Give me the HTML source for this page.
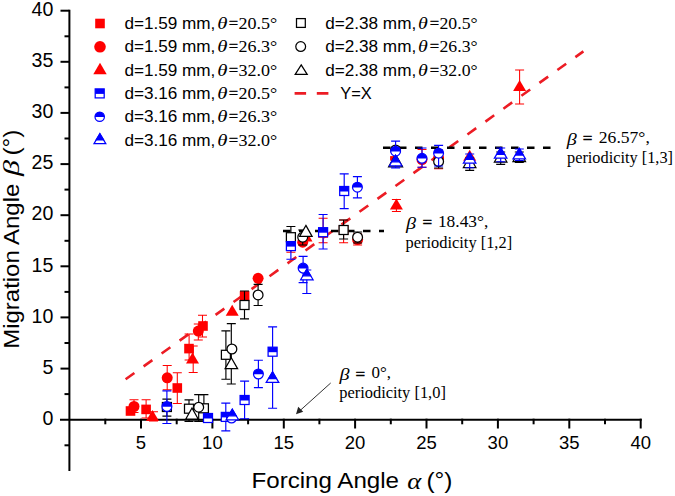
<!DOCTYPE html>
<html><head><meta charset="utf-8"><style>
html,body{margin:0;padding:0;background:#fff;}
svg{display:block;}
</style></head><body>
<svg width="675" height="496" viewBox="0 0 675 496">
<rect width="675" height="496" fill="#fff"/>
<path d="M69.4 9.7V471" stroke="#000" stroke-width="2" fill="none"/>
<path d="M60 419.7H641.7" stroke="#000" stroke-width="2" fill="none"/>
<path d="M60.5 368.6H69.4" stroke="#000" stroke-width="2"/>
<path d="M60.5 317.4H69.4" stroke="#000" stroke-width="2"/>
<path d="M60.5 266.3H69.4" stroke="#000" stroke-width="2"/>
<path d="M60.5 215.2H69.4" stroke="#000" stroke-width="2"/>
<path d="M60.5 164.1H69.4" stroke="#000" stroke-width="2"/>
<path d="M60.5 112.9H69.4" stroke="#000" stroke-width="2"/>
<path d="M60.5 61.8H69.4" stroke="#000" stroke-width="2"/>
<path d="M60.5 10.7H69.4" stroke="#000" stroke-width="2"/>
<path d="M64.5 445.3H69.4" stroke="#000" stroke-width="2"/>
<path d="M64.5 394.1H69.4" stroke="#000" stroke-width="2"/>
<path d="M64.5 343.0H69.4" stroke="#000" stroke-width="2"/>
<path d="M64.5 291.9H69.4" stroke="#000" stroke-width="2"/>
<path d="M64.5 240.8H69.4" stroke="#000" stroke-width="2"/>
<path d="M64.5 189.6H69.4" stroke="#000" stroke-width="2"/>
<path d="M64.5 138.5H69.4" stroke="#000" stroke-width="2"/>
<path d="M64.5 87.4H69.4" stroke="#000" stroke-width="2"/>
<path d="M64.5 36.3H69.4" stroke="#000" stroke-width="2"/>
<text x="53.4" y="424.9" font-family="Liberation Sans" font-size="19.6" text-anchor="end">0</text>
<text x="53.4" y="373.8" font-family="Liberation Sans" font-size="19.6" text-anchor="end">5</text>
<text x="53.4" y="322.6" font-family="Liberation Sans" font-size="19.6" text-anchor="end">10</text>
<text x="53.4" y="271.5" font-family="Liberation Sans" font-size="19.6" text-anchor="end">15</text>
<text x="53.4" y="220.4" font-family="Liberation Sans" font-size="19.6" text-anchor="end">20</text>
<text x="53.4" y="169.3" font-family="Liberation Sans" font-size="19.6" text-anchor="end">25</text>
<text x="53.4" y="118.1" font-family="Liberation Sans" font-size="19.6" text-anchor="end">30</text>
<text x="53.4" y="67.0" font-family="Liberation Sans" font-size="19.6" text-anchor="end">35</text>
<text x="53.4" y="15.9" font-family="Liberation Sans" font-size="19.6" text-anchor="end">40</text>
<path d="M141.0 418.7V428.5" stroke="#000" stroke-width="2"/>
<path d="M212.4 418.7V428.5" stroke="#000" stroke-width="2"/>
<path d="M283.8 418.7V428.5" stroke="#000" stroke-width="2"/>
<path d="M355.1 418.7V428.5" stroke="#000" stroke-width="2"/>
<path d="M426.5 418.7V428.5" stroke="#000" stroke-width="2"/>
<path d="M497.9 418.7V428.5" stroke="#000" stroke-width="2"/>
<path d="M569.3 418.7V428.5" stroke="#000" stroke-width="2"/>
<path d="M640.7 418.7V428.5" stroke="#000" stroke-width="2"/>
<path d="M105.3 418.7V424.3" stroke="#000" stroke-width="2"/>
<path d="M176.7 418.7V424.3" stroke="#000" stroke-width="2"/>
<path d="M248.1 418.7V424.3" stroke="#000" stroke-width="2"/>
<path d="M319.4 418.7V424.3" stroke="#000" stroke-width="2"/>
<path d="M390.8 418.7V424.3" stroke="#000" stroke-width="2"/>
<path d="M462.2 418.7V424.3" stroke="#000" stroke-width="2"/>
<path d="M533.6 418.7V424.3" stroke="#000" stroke-width="2"/>
<path d="M605.0 418.7V424.3" stroke="#000" stroke-width="2"/>
<text x="141.0" y="449.4" font-family="Liberation Sans" font-size="18.5" text-anchor="middle">5</text>
<text x="212.4" y="449.4" font-family="Liberation Sans" font-size="18.5" text-anchor="middle">10</text>
<text x="283.8" y="449.4" font-family="Liberation Sans" font-size="18.5" text-anchor="middle">15</text>
<text x="355.1" y="449.4" font-family="Liberation Sans" font-size="18.5" text-anchor="middle">20</text>
<text x="426.5" y="449.4" font-family="Liberation Sans" font-size="18.5" text-anchor="middle">25</text>
<text x="497.9" y="449.4" font-family="Liberation Sans" font-size="18.5" text-anchor="middle">30</text>
<text x="569.3" y="449.4" font-family="Liberation Sans" font-size="18.5" text-anchor="middle">35</text>
<text x="640.7" y="449.4" font-family="Liberation Sans" font-size="18.5" text-anchor="middle">40</text>
<text x="251.5" y="487.9" font-family="Liberation Sans" font-size="21.5" text-anchor="start" textLength="147.5" lengthAdjust="spacingAndGlyphs">Forcing Angle</text>
<text x="407.3" y="489.2" font-family="Liberation Serif" font-size="23" font-style="italic" text-anchor="start" textLength="14" lengthAdjust="spacingAndGlyphs">α</text>
<text x="426.5" y="487.9" font-family="Liberation Sans" font-size="21.5" text-anchor="start" textLength="26" lengthAdjust="spacingAndGlyphs">(°)</text>
<g transform="translate(18.7 348.7) rotate(-90)">
<text x="0" y="0" font-family="Liberation Sans" font-size="22" text-anchor="start" textLength="165" lengthAdjust="spacingAndGlyphs">Migration Angle</text>
<text x="172.6" y="0" font-family="Liberation Serif" font-size="24" font-style="italic" text-anchor="start" textLength="16" lengthAdjust="spacingAndGlyphs">β</text>
<text x="193.2" y="0" font-family="Liberation Sans" font-size="21.5" text-anchor="start" textLength="26" lengthAdjust="spacingAndGlyphs">(°)</text>
</g>
<path d="M125.6 379.3L583.4 51.4" stroke="#ec1c24" stroke-width="2.6" stroke-dasharray="10.8 11.33" fill="none"/>
<path d="M283 231H384" stroke="#000" stroke-width="2.4" stroke-dasharray="7.5 8.5" fill="none"/>
<path d="M383 147.7H551.3" stroke="#000" stroke-width="2.4" stroke-dasharray="7.5 8.5" fill="none"/>
<path d="M134.0 399.8V412.4M129.5 399.8h9M129.5 412.4h9" stroke="#ff0000" stroke-width="1.05" fill="none"/>
<path d="M146.1 399.8V418.0M141.6 399.8h9M141.6 418.0h9" stroke="#ff0000" stroke-width="1.05" fill="none"/>
<path d="M153.5 411.7V421.0M149.0 411.7h9M149.0 421.0h9" stroke="#ff0000" stroke-width="1.05" fill="none"/>
<path d="M167.2 365.5V389.8M162.7 365.5h9M162.7 389.8h9" stroke="#ff0000" stroke-width="1.05" fill="none"/>
<path d="M177.3 372.7V403.5M172.8 372.7h9M172.8 403.5h9" stroke="#ff0000" stroke-width="1.05" fill="none"/>
<path d="M189.1 334.0V360.0M184.6 334.0h9M184.6 360.0h9" stroke="#ff0000" stroke-width="1.05" fill="none"/>
<path d="M193.2 346.0V372.5M188.7 346.0h9M188.7 372.5h9" stroke="#ff0000" stroke-width="1.05" fill="none"/>
<path d="M198.3 324.0V340.0M193.8 324.0h9M193.8 340.0h9" stroke="#ff0000" stroke-width="1.05" fill="none"/>
<path d="M202.5 315.2V337.0M198.0 315.2h9M198.0 337.0h9" stroke="#ff0000" stroke-width="1.05" fill="none"/>
<path d="M290.9 240.0V252.2M286.4 240.0h9M286.4 252.2h9" stroke="#ff0000" stroke-width="1.05" fill="none"/>
<path d="M323.1 218.2V242.7M318.6 218.2h9M318.6 242.7h9" stroke="#ff0000" stroke-width="1.05" fill="none"/>
<path d="M343.6 220.0V242.7M339.1 220.0h9M339.1 242.7h9" stroke="#ff0000" stroke-width="1.05" fill="none"/>
<path d="M357.6 234.0V245.0M353.1 234.0h9M353.1 245.0h9" stroke="#ff0000" stroke-width="1.05" fill="none"/>
<path d="M396.4 199.4V211.5M391.9 199.4h9M391.9 211.5h9" stroke="#ff0000" stroke-width="1.05" fill="none"/>
<path d="M422.0 149.5V167.2M417.5 149.5h9M417.5 167.2h9" stroke="#ff0000" stroke-width="1.05" fill="none"/>
<path d="M438.6 152.0V168.7M434.1 152.0h9M434.1 168.7h9" stroke="#ff0000" stroke-width="1.05" fill="none"/>
<path d="M519.6 70.0V104.0M515.1 70.0h9M515.1 104.0h9" stroke="#ff0000" stroke-width="1.05" fill="none"/>
<rect x="125.7" y="406.2" width="9.6" height="9.6" fill="#ff0000"/>
<rect x="141.3" y="404.6" width="9.6" height="9.6" fill="#ff0000"/>
<rect x="172.5" y="383.2" width="9.6" height="9.6" fill="#ff0000"/>
<rect x="184.2" y="343.8" width="9.6" height="9.6" fill="#ff0000"/>
<rect x="198.2" y="321.2" width="9.6" height="9.6" fill="#ff0000"/>
<rect x="239.8" y="291.1" width="9.6" height="9.6" fill="#ff0000"/>
<rect x="286.1" y="239.2" width="9.6" height="9.6" fill="#ff0000"/>
<rect x="318.3" y="228.2" width="9.6" height="9.6" fill="#ff0000"/>
<rect x="338.8" y="225.2" width="9.6" height="9.6" fill="#ff0000"/>
<rect x="390.1" y="156.1" width="4.5" height="4.5" fill="#ff0000"/>
<circle cx="134.0" cy="406.5" r="5.5" fill="#ff0000"/>
<circle cx="167.2" cy="377.8" r="5.5" fill="#ff0000"/>
<circle cx="198.3" cy="331.1" r="5.5" fill="#ff0000"/>
<circle cx="258.1" cy="278.3" r="5.5" fill="#ff0000"/>
<circle cx="302.7" cy="242.2" r="5.5" fill="#ff0000"/>
<circle cx="357.6" cy="239.5" r="5.5" fill="#ff0000"/>
<circle cx="422.0" cy="159.5" r="5.5" fill="#ff0000"/>
<circle cx="438.6" cy="158.0" r="5.5" fill="#ff0000"/>
<path d="M152.5 410.0L159.0 421.0H146.0Z" fill="#ff0000"/>
<path d="M192.5 352.6L199.0 363.6H186.0Z" fill="#ff0000"/>
<path d="M232.2 304.7L238.7 315.7H225.7Z" fill="#ff0000"/>
<path d="M306.0 230.5L312.5 241.5H299.5Z" fill="#ff0000"/>
<path d="M396.4 198.5L402.9 209.5H389.9Z" fill="#ff0000"/>
<path d="M469.7 149.8L476.2 160.8H463.2Z" fill="#ff0000"/>
<path d="M519.6 79.9L526.1 90.9H513.1Z" fill="#ff0000"/>
<path d="M166.9 399.1V416.1M162.4 399.1h9M162.4 416.1h9" stroke="#000000" stroke-width="1.15" fill="none"/>
<path d="M189.0 399.8V421.3M184.5 399.8h9M184.5 421.3h9" stroke="#000000" stroke-width="1.15" fill="none"/>
<path d="M198.7 394.6V421.3M194.2 394.6h9M194.2 421.3h9" stroke="#000000" stroke-width="1.15" fill="none"/>
<path d="M203.9 394.6V421.3M199.4 394.6h9M199.4 421.3h9" stroke="#000000" stroke-width="1.15" fill="none"/>
<path d="M225.9 330.8V379.2M221.4 330.8h9M221.4 379.2h9" stroke="#000000" stroke-width="1.15" fill="none"/>
<path d="M231.3 323.6V384.0M226.8 323.6h9M226.8 384.0h9" stroke="#000000" stroke-width="1.15" fill="none"/>
<path d="M244.5 291.0V318.8M240.0 291.0h9M240.0 318.8h9" stroke="#000000" stroke-width="1.15" fill="none"/>
<path d="M258.1 284.4V305.5M253.6 284.4h9M253.6 305.5h9" stroke="#000000" stroke-width="1.15" fill="none"/>
<path d="M290.9 226.5V245.0M286.4 226.5h9M286.4 245.0h9" stroke="#000000" stroke-width="1.15" fill="none"/>
<path d="M302.7 230.0V245.0M298.2 230.0h9M298.2 245.0h9" stroke="#000000" stroke-width="1.15" fill="none"/>
<path d="M343.6 220.0V239.0M339.1 220.0h9M339.1 239.0h9" stroke="#000000" stroke-width="1.15" fill="none"/>
<path d="M357.6 232.0V243.0M353.1 232.0h9M353.1 243.0h9" stroke="#000000" stroke-width="1.15" fill="none"/>
<path d="M438.6 150.0V168.0M434.1 150.0h9M434.1 168.0h9" stroke="#000000" stroke-width="1.15" fill="none"/>
<path d="M469.7 158.0V170.3M465.2 158.0h9M465.2 170.3h9" stroke="#000000" stroke-width="1.15" fill="none"/>
<path d="M500.7 152.0V164.3M496.2 152.0h9M496.2 164.3h9" stroke="#000000" stroke-width="1.15" fill="none"/>
<path d="M519.3 152.0V162.3M514.8 152.0h9M514.8 162.3h9" stroke="#000000" stroke-width="1.15" fill="none"/>
<rect x="162.4" y="402.5" width="9.0" height="9.0" fill="#fff" stroke="#000000" stroke-width="1.25"/>
<rect x="184.5" y="404.2" width="9.0" height="9.0" fill="#fff" stroke="#000000" stroke-width="1.25"/>
<rect x="199.4" y="403.8" width="9.0" height="9.0" fill="#fff" stroke="#000000" stroke-width="1.25"/>
<rect x="221.4" y="350.3" width="9.0" height="9.0" fill="#fff" stroke="#000000" stroke-width="1.25"/>
<rect x="240.0" y="300.5" width="9.0" height="9.0" fill="#fff" stroke="#000000" stroke-width="1.25"/>
<rect x="286.4" y="232.7" width="9.0" height="9.0" fill="#fff" stroke="#000000" stroke-width="1.25"/>
<rect x="339.1" y="225.5" width="9.0" height="9.0" fill="#fff" stroke="#000000" stroke-width="1.25"/>
<circle cx="198.7" cy="407.2" r="4.9" fill="#fff" stroke="#000000" stroke-width="1.25"/>
<circle cx="231.9" cy="349.0" r="4.9" fill="#fff" stroke="#000000" stroke-width="1.25"/>
<circle cx="258.1" cy="294.9" r="4.9" fill="#fff" stroke="#000000" stroke-width="1.25"/>
<circle cx="302.7" cy="237.2" r="4.9" fill="#fff" stroke="#000000" stroke-width="1.25"/>
<circle cx="357.6" cy="237.2" r="4.9" fill="#fff" stroke="#000000" stroke-width="1.25"/>
<circle cx="438.6" cy="161.5" r="4.9" fill="#fff" stroke="#000000" stroke-width="1.25"/>
<circle cx="395.6" cy="150.0" r="4.9" fill="#fff" stroke="#000000" stroke-width="1.25"/>
<path d="M192.0 408.0L198.2 419.0H185.8Z" fill="#fff" stroke="#000000" stroke-width="1.25" stroke-linejoin="miter"/>
<path d="M231.3 357.7L237.6 368.7H225.1Z" fill="#fff" stroke="#000000" stroke-width="1.25" stroke-linejoin="miter"/>
<path d="M305.9 225.4L312.1 236.4H299.6Z" fill="#fff" stroke="#000000" stroke-width="1.25" stroke-linejoin="miter"/>
<path d="M469.7 156.5L475.9 167.5H463.4Z" fill="#fff" stroke="#000000" stroke-width="1.25" stroke-linejoin="miter"/>
<path d="M500.7 151.0L506.9 162.0H494.4Z" fill="#fff" stroke="#000000" stroke-width="1.25" stroke-linejoin="miter"/>
<path d="M519.3 150.5L525.5 161.5H513.0Z" fill="#fff" stroke="#000000" stroke-width="1.25" stroke-linejoin="miter"/>
<path d="M395.6 154.2L402.6 166.8H388.6Z" fill="#fff" stroke="#000000" stroke-width="1.25" stroke-linejoin="miter"/>
<path d="M166.9 390.9V423.5M162.4 390.9h9M162.4 423.5h9" stroke="#0000ff" stroke-width="1.15" fill="none"/>
<path d="M225.8 403.1V430.8M221.3 403.1h9M221.3 430.8h9" stroke="#0000ff" stroke-width="1.15" fill="none"/>
<path d="M244.6 381.1V418.7M240.1 381.1h9M240.1 418.7h9" stroke="#0000ff" stroke-width="1.15" fill="none"/>
<path d="M258.4 360.2V387.6M253.9 360.2h9M253.9 387.6h9" stroke="#0000ff" stroke-width="1.15" fill="none"/>
<path d="M272.6 326.8V408.2M268.1 326.8h9M268.1 408.2h9" stroke="#0000ff" stroke-width="1.15" fill="none"/>
<path d="M290.9 245.0V259.2M286.4 245.0h9M286.4 259.2h9" stroke="#0000ff" stroke-width="1.15" fill="none"/>
<path d="M303.1 256.3V282.6M298.6 256.3h9M298.6 282.6h9" stroke="#0000ff" stroke-width="1.15" fill="none"/>
<path d="M306.8 270.0V293.5M302.3 270.0h9M302.3 293.5h9" stroke="#0000ff" stroke-width="1.15" fill="none"/>
<path d="M323.1 214.5V249.0M318.6 214.5h9M318.6 249.0h9" stroke="#0000ff" stroke-width="1.15" fill="none"/>
<path d="M344.2 173.9V208.6M339.7 173.9h9M339.7 208.6h9" stroke="#0000ff" stroke-width="1.15" fill="none"/>
<path d="M357.4 176.6V197.8M352.9 176.6h9M352.9 197.8h9" stroke="#0000ff" stroke-width="1.15" fill="none"/>
<path d="M395.6 141.1V167.8M391.1 141.1h9M391.1 167.8h9" stroke="#0000ff" stroke-width="1.15" fill="none"/>
<path d="M422.0 148.0V167.2M417.5 148.0h9M417.5 167.2h9" stroke="#0000ff" stroke-width="1.15" fill="none"/>
<path d="M438.6 145.4V166.0M434.1 145.4h9M434.1 166.0h9" stroke="#0000ff" stroke-width="1.15" fill="none"/>
<path d="M469.7 154.0V167.7M465.2 154.0h9M465.2 167.7h9" stroke="#0000ff" stroke-width="1.15" fill="none"/>
<path d="M500.7 148.0V161.7M496.2 148.0h9M496.2 161.7h9" stroke="#0000ff" stroke-width="1.15" fill="none"/>
<path d="M519.3 149.0V160.5M514.8 149.0h9M514.8 160.5h9" stroke="#0000ff" stroke-width="1.15" fill="none"/>
<rect x="203.5" y="413.5" width="9.0" height="9.0" fill="#fff" stroke="#0000ff" stroke-width="1.25"/>
<rect x="203.5" y="413.5" width="9.0" height="5.0" fill="#0000ff"/>
<rect x="221.3" y="412.4" width="9.0" height="9.0" fill="#fff" stroke="#0000ff" stroke-width="1.25"/>
<rect x="221.3" y="412.4" width="9.0" height="5.0" fill="#0000ff"/>
<rect x="240.1" y="395.5" width="9.0" height="9.0" fill="#fff" stroke="#0000ff" stroke-width="1.25"/>
<rect x="240.1" y="395.5" width="9.0" height="5.0" fill="#0000ff"/>
<rect x="268.1" y="347.2" width="9.0" height="9.0" fill="#fff" stroke="#0000ff" stroke-width="1.25"/>
<rect x="268.1" y="347.2" width="9.0" height="5.0" fill="#0000ff"/>
<rect x="286.4" y="241.6" width="9.0" height="9.0" fill="#fff" stroke="#0000ff" stroke-width="1.25"/>
<rect x="286.4" y="241.6" width="9.0" height="5.0" fill="#0000ff"/>
<rect x="318.6" y="227.7" width="9.0" height="9.0" fill="#fff" stroke="#0000ff" stroke-width="1.25"/>
<rect x="318.6" y="227.7" width="9.0" height="5.0" fill="#0000ff"/>
<rect x="339.7" y="186.5" width="9.0" height="9.0" fill="#fff" stroke="#0000ff" stroke-width="1.25"/>
<rect x="339.7" y="186.5" width="9.0" height="5.0" fill="#0000ff"/>
<circle cx="166.9" cy="406.5" r="4.9" fill="#fff" stroke="#0000ff" stroke-width="1.25"/>
<path d="M162.01 406.80A4.9 4.9 0 1 1 171.79 406.80Z" fill="#0000ff"/>
<circle cx="231.5" cy="418.0" r="4.9" fill="#fff" stroke="#0000ff" stroke-width="1.25"/>
<path d="M226.61 418.30A4.9 4.9 0 1 1 236.39 418.30Z" fill="#0000ff"/>
<circle cx="258.4" cy="374.0" r="4.9" fill="#fff" stroke="#0000ff" stroke-width="1.25"/>
<path d="M253.51 374.30A4.9 4.9 0 1 1 263.29 374.30Z" fill="#0000ff"/>
<circle cx="303.1" cy="268.1" r="4.9" fill="#fff" stroke="#0000ff" stroke-width="1.25"/>
<path d="M298.21 268.40A4.9 4.9 0 1 1 307.99 268.40Z" fill="#0000ff"/>
<circle cx="357.4" cy="187.2" r="4.9" fill="#fff" stroke="#0000ff" stroke-width="1.25"/>
<path d="M352.51 187.50A4.9 4.9 0 1 1 362.29 187.50Z" fill="#0000ff"/>
<circle cx="395.6" cy="151.2" r="4.9" fill="#fff" stroke="#0000ff" stroke-width="1.25"/>
<path d="M390.71 151.50A4.9 4.9 0 1 1 400.49 151.50Z" fill="#0000ff"/>
<circle cx="422.0" cy="158.3" r="4.9" fill="#fff" stroke="#0000ff" stroke-width="1.25"/>
<path d="M417.11 158.60A4.9 4.9 0 1 1 426.89 158.60Z" fill="#0000ff"/>
<circle cx="438.6" cy="153.2" r="4.9" fill="#fff" stroke="#0000ff" stroke-width="1.25"/>
<path d="M433.71 153.50A4.9 4.9 0 1 1 443.49 153.50Z" fill="#0000ff"/>
<path d="M232.3 409.2L238.6 419.8H226.1Z" fill="#fff" stroke="#0000ff" stroke-width="1.25"/>
<path d="M232.3 409.2L236.2 415.8H228.4Z" fill="#0000ff" stroke="#0000ff" stroke-width="1.25"/>
<path d="M272.5 371.9L278.8 382.4H266.2Z" fill="#fff" stroke="#0000ff" stroke-width="1.25"/>
<path d="M272.5 371.9L276.4 378.5H268.6Z" fill="#0000ff" stroke="#0000ff" stroke-width="1.25"/>
<path d="M306.8 269.2L313.1 279.8H300.6Z" fill="#fff" stroke="#0000ff" stroke-width="1.25"/>
<path d="M306.8 269.2L310.7 275.8H302.9Z" fill="#0000ff" stroke="#0000ff" stroke-width="1.25"/>
<path d="M395.6 155.2L401.9 165.8H389.4Z" fill="#fff" stroke="#0000ff" stroke-width="1.25"/>
<path d="M395.6 155.2L399.5 161.8H391.7Z" fill="#0000ff" stroke="#0000ff" stroke-width="1.25"/>
<path d="M469.7 152.8L475.9 163.2H463.4Z" fill="#fff" stroke="#0000ff" stroke-width="1.25"/>
<path d="M469.7 152.8L473.6 159.3H465.8Z" fill="#0000ff" stroke="#0000ff" stroke-width="1.25"/>
<path d="M500.7 147.8L506.9 158.2H494.4Z" fill="#fff" stroke="#0000ff" stroke-width="1.25"/>
<path d="M500.7 147.8L504.6 154.3H496.8Z" fill="#0000ff" stroke="#0000ff" stroke-width="1.25"/>
<path d="M519.3 148.4L525.5 158.9H513.0Z" fill="#fff" stroke="#0000ff" stroke-width="1.25"/>
<path d="M519.3 148.4L523.2 155.0H515.4Z" fill="#0000ff" stroke="#0000ff" stroke-width="1.25"/>
<path d="M330.7 383L299 411.5" stroke="#333" stroke-width="1"/>
<path d="M296 414.2L298.2 406.8L303.2 411.8Z" fill="#222"/>
<text x="339.6" y="380.2" font-family="Liberation Serif" font-size="17" font-style="italic" textLength="10" lengthAdjust="spacingAndGlyphs">β</text>
<text x="355.4" y="380.0" font-family="Liberation Serif" font-size="16" textLength="9.6" lengthAdjust="spacingAndGlyphs" stroke="#000" stroke-width="0.45">=</text>
<text x="371.6" y="378.4" font-family="Liberation Serif" font-size="16.3" textLength="19.5" lengthAdjust="spacingAndGlyphs">0°,</text>
<text x="339.2" y="398.1" font-family="Liberation Serif" font-size="16" text-anchor="start" textLength="106.7" lengthAdjust="spacingAndGlyphs">periodicity [1,0]</text>
<text x="406.1" y="228.5" font-family="Liberation Serif" font-size="17" font-style="italic" textLength="10" lengthAdjust="spacingAndGlyphs">β</text>
<text x="422.6" y="228.3" font-family="Liberation Serif" font-size="16" textLength="9.6" lengthAdjust="spacingAndGlyphs" stroke="#000" stroke-width="0.45">=</text>
<text x="437.9" y="226.7" font-family="Liberation Serif" font-size="16.3" textLength="50.5" lengthAdjust="spacingAndGlyphs">18.43°,</text>
<text x="405.6" y="247.6" font-family="Liberation Serif" font-size="16" text-anchor="start" textLength="106.5" lengthAdjust="spacingAndGlyphs">periodicity [1,2]</text>
<text x="566.7" y="144.6" font-family="Liberation Serif" font-size="17" font-style="italic" textLength="10" lengthAdjust="spacingAndGlyphs">β</text>
<text x="582.8" y="144.4" font-family="Liberation Serif" font-size="16" textLength="9.6" lengthAdjust="spacingAndGlyphs" stroke="#000" stroke-width="0.45">=</text>
<text x="598.8" y="142.8" font-family="Liberation Serif" font-size="16.3" textLength="51" lengthAdjust="spacingAndGlyphs">26.57°,</text>
<text x="567" y="162.6" font-family="Liberation Serif" font-size="16" text-anchor="start" textLength="106" lengthAdjust="spacingAndGlyphs">periodicity [1,3]</text>
<rect x="95.2" y="18.7" width="9.6" height="9.6" fill="#ff0000"/>
<circle cx="100.0" cy="46.8" r="5.8" fill="#ff0000"/>
<path d="M100.0 62.8L106.7 74.3H93.3Z" fill="#ff0000"/>
<rect x="95.2" y="88.9" width="9.0" height="9.0" fill="#fff" stroke="#0000ff" stroke-width="1.25"/>
<rect x="95.2" y="88.9" width="9.0" height="5.0" fill="#0000ff"/>
<circle cx="99.7" cy="116.7" r="4.7" fill="#fff" stroke="#0000ff" stroke-width="1.25"/>
<path d="M95.01 117.00A4.7 4.7 0 1 1 104.39 117.00Z" fill="#0000ff"/>
<path d="M99.9 133.7L105.8 143.7H94.0Z" fill="#fff" stroke="#0000ff" stroke-width="1.25"/>
<path d="M99.9 133.7L103.6 139.9H96.2Z" fill="#0000ff" stroke="#0000ff" stroke-width="1.25"/>
<rect x="296.5" y="18.6" width="8.8" height="8.8" fill="#fff" stroke="#000000" stroke-width="1.25"/>
<circle cx="300.7" cy="46.6" r="4.9" fill="#fff" stroke="#000000" stroke-width="1.25"/>
<path d="M301.2 64.8L307.2 74.3H295.2Z" fill="#fff" stroke="#000000" stroke-width="1.25" stroke-linejoin="miter"/>
<path d="M294.6 93.4H306.1M316.8 93.4H328.4" stroke="#ec1c24" stroke-width="2.8"/>
<text x="124.4" y="28.8" font-family="Liberation Sans" font-size="17" text-anchor="start" textLength="91" lengthAdjust="spacingAndGlyphs">d=1.59 mm,</text>
<text x="217.2" y="28.8" font-family="Liberation Serif" font-size="16" font-style="italic" text-anchor="start" textLength="10.2" lengthAdjust="spacingAndGlyphs">θ</text>
<text x="228.8" y="28.8" font-family="Liberation Serif" font-size="17" text-anchor="start" textLength="9.4" lengthAdjust="spacingAndGlyphs" stroke="#000" stroke-width="0.35">=</text>
<text x="238.4" y="28.8" font-family="Liberation Serif" font-size="17" text-anchor="start" textLength="38.8" lengthAdjust="spacingAndGlyphs">20.5°</text>
<text x="124.4" y="52.2" font-family="Liberation Sans" font-size="17" text-anchor="start" textLength="91" lengthAdjust="spacingAndGlyphs">d=1.59 mm,</text>
<text x="217.2" y="52.2" font-family="Liberation Serif" font-size="16" font-style="italic" text-anchor="start" textLength="10.2" lengthAdjust="spacingAndGlyphs">θ</text>
<text x="228.8" y="52.2" font-family="Liberation Serif" font-size="17" text-anchor="start" textLength="9.4" lengthAdjust="spacingAndGlyphs" stroke="#000" stroke-width="0.35">=</text>
<text x="238.4" y="52.2" font-family="Liberation Serif" font-size="17" text-anchor="start" textLength="38.8" lengthAdjust="spacingAndGlyphs">26.3°</text>
<text x="124.4" y="75.6" font-family="Liberation Sans" font-size="17" text-anchor="start" textLength="91" lengthAdjust="spacingAndGlyphs">d=1.59 mm,</text>
<text x="217.2" y="75.6" font-family="Liberation Serif" font-size="16" font-style="italic" text-anchor="start" textLength="10.2" lengthAdjust="spacingAndGlyphs">θ</text>
<text x="228.8" y="75.6" font-family="Liberation Serif" font-size="17" text-anchor="start" textLength="9.4" lengthAdjust="spacingAndGlyphs" stroke="#000" stroke-width="0.35">=</text>
<text x="238.4" y="75.6" font-family="Liberation Serif" font-size="17" text-anchor="start" textLength="38.8" lengthAdjust="spacingAndGlyphs">32.0°</text>
<text x="124.4" y="99.0" font-family="Liberation Sans" font-size="17" text-anchor="start" textLength="91" lengthAdjust="spacingAndGlyphs">d=3.16 mm,</text>
<text x="217.2" y="99.0" font-family="Liberation Serif" font-size="16" font-style="italic" text-anchor="start" textLength="10.2" lengthAdjust="spacingAndGlyphs">θ</text>
<text x="228.8" y="99.0" font-family="Liberation Serif" font-size="17" text-anchor="start" textLength="9.4" lengthAdjust="spacingAndGlyphs" stroke="#000" stroke-width="0.35">=</text>
<text x="238.4" y="99.0" font-family="Liberation Serif" font-size="17" text-anchor="start" textLength="38.8" lengthAdjust="spacingAndGlyphs">20.5°</text>
<text x="124.4" y="122.4" font-family="Liberation Sans" font-size="17" text-anchor="start" textLength="91" lengthAdjust="spacingAndGlyphs">d=3.16 mm,</text>
<text x="217.2" y="122.4" font-family="Liberation Serif" font-size="16" font-style="italic" text-anchor="start" textLength="10.2" lengthAdjust="spacingAndGlyphs">θ</text>
<text x="228.8" y="122.4" font-family="Liberation Serif" font-size="17" text-anchor="start" textLength="9.4" lengthAdjust="spacingAndGlyphs" stroke="#000" stroke-width="0.35">=</text>
<text x="238.4" y="122.4" font-family="Liberation Serif" font-size="17" text-anchor="start" textLength="38.8" lengthAdjust="spacingAndGlyphs">26.3°</text>
<text x="124.4" y="145.8" font-family="Liberation Sans" font-size="17" text-anchor="start" textLength="91" lengthAdjust="spacingAndGlyphs">d=3.16 mm,</text>
<text x="217.2" y="145.8" font-family="Liberation Serif" font-size="16" font-style="italic" text-anchor="start" textLength="10.2" lengthAdjust="spacingAndGlyphs">θ</text>
<text x="228.8" y="145.8" font-family="Liberation Serif" font-size="17" text-anchor="start" textLength="9.4" lengthAdjust="spacingAndGlyphs" stroke="#000" stroke-width="0.35">=</text>
<text x="238.4" y="145.8" font-family="Liberation Serif" font-size="17" text-anchor="start" textLength="38.8" lengthAdjust="spacingAndGlyphs">32.0°</text>
<text x="325.2" y="28.8" font-family="Liberation Sans" font-size="17" text-anchor="start" textLength="91" lengthAdjust="spacingAndGlyphs">d=2.38 mm,</text>
<text x="418.0" y="28.8" font-family="Liberation Serif" font-size="16" font-style="italic" text-anchor="start" textLength="9.8" lengthAdjust="spacingAndGlyphs">θ</text>
<text x="429.8" y="28.8" font-family="Liberation Serif" font-size="17" text-anchor="start" textLength="9.4" lengthAdjust="spacingAndGlyphs" stroke="#000" stroke-width="0.35">=</text>
<text x="439.5" y="28.8" font-family="Liberation Serif" font-size="17" text-anchor="start" textLength="38.1" lengthAdjust="spacingAndGlyphs">20.5°</text>
<text x="325.2" y="52.2" font-family="Liberation Sans" font-size="17" text-anchor="start" textLength="91" lengthAdjust="spacingAndGlyphs">d=2.38 mm,</text>
<text x="418.0" y="52.2" font-family="Liberation Serif" font-size="16" font-style="italic" text-anchor="start" textLength="9.8" lengthAdjust="spacingAndGlyphs">θ</text>
<text x="429.8" y="52.2" font-family="Liberation Serif" font-size="17" text-anchor="start" textLength="9.4" lengthAdjust="spacingAndGlyphs" stroke="#000" stroke-width="0.35">=</text>
<text x="439.5" y="52.2" font-family="Liberation Serif" font-size="17" text-anchor="start" textLength="38.1" lengthAdjust="spacingAndGlyphs">26.3°</text>
<text x="325.2" y="75.6" font-family="Liberation Sans" font-size="17" text-anchor="start" textLength="91" lengthAdjust="spacingAndGlyphs">d=2.38 mm,</text>
<text x="418.0" y="75.6" font-family="Liberation Serif" font-size="16" font-style="italic" text-anchor="start" textLength="9.8" lengthAdjust="spacingAndGlyphs">θ</text>
<text x="429.8" y="75.6" font-family="Liberation Serif" font-size="17" text-anchor="start" textLength="9.4" lengthAdjust="spacingAndGlyphs" stroke="#000" stroke-width="0.35">=</text>
<text x="439.5" y="75.6" font-family="Liberation Serif" font-size="17" text-anchor="start" textLength="38.1" lengthAdjust="spacingAndGlyphs">32.0°</text>
<text x="340.2" y="98.7" font-family="Liberation Sans" font-size="17" text-anchor="start" textLength="31.5" lengthAdjust="spacingAndGlyphs">Y=X</text>
</svg>
</body></html>
